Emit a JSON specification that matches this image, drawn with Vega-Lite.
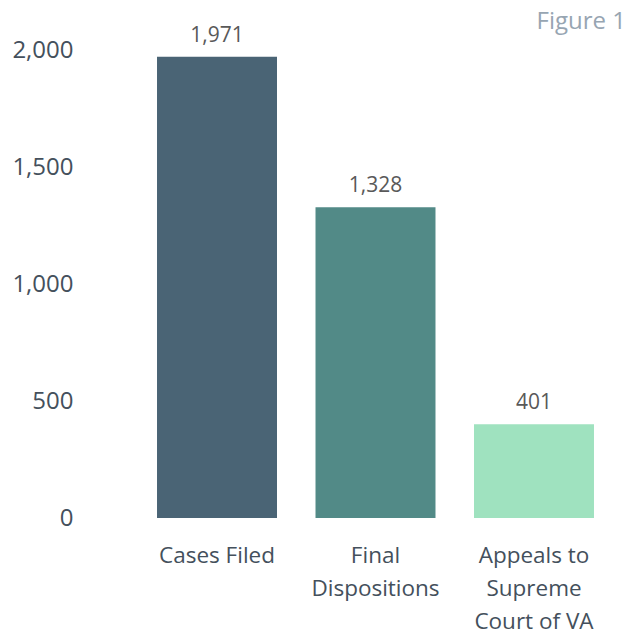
{
  "$schema": "https://vega.github.io/schema/vega-lite/v6.json",
  "width": 475,
  "height": 468,
  "autosize": {"type": "none"},
  "padding": {"left": 138, "top": 50, "right": 12, "bottom": 121},
  "background": "white",
  "config": {"view": {"stroke": null}, "font": "Open Sans"},
  "title": {
    "text": "Figure 1",
    "anchor": "end",
    "orient": "top",
    "offset": 0,
    "dx": 13,
    "dy": 9,
    "fontSize": 24,
    "fontWeight": "normal",
    "color": "#97a5b2",
    "font": "Open Sans"
  },
  "data": {
    "values": [
      {"category": "Cases Filed", "value": 1971, "color": "#4a6475"},
      {"category": "Final Dispositions", "value": 1328, "color": "#528a87"},
      {"category": "Appeals to Supreme Court of VA", "value": 401, "color": "#9fe2bf"}
    ]
  },
  "encoding": {
    "x": {
      "field": "category",
      "type": "nominal",
      "sort": null,
      "scale": {"paddingInner": 0.243, "paddingOuter": 0.12},
      "axis": {
        "title": null,
        "domain": false,
        "ticks": false,
        "labelAngle": 0,
        "labelFontSize": 22.5,
        "labelColor": "#44505c",
        "labelPadding": 26,
        "labelLineHeight": 33,
        "labelBaseline": "top",
        "labelExpr": "datum.value == 'Cases Filed' ? 'Cases Filed' : datum.value == 'Final Dispositions' ? ['Final', 'Dispositions'] : ['Appeals to', 'Supreme', 'Court of VA']"
      }
    },
    "y": {
      "field": "value",
      "type": "quantitative",
      "scale": {"domain": [0, 2000], "nice": false},
      "axis": {
        "title": null,
        "domain": false,
        "ticks": false,
        "grid": false,
        "values": [0, 500, 1000, 1500, 2000],
        "format": ",d",
        "labelFontSize": 24,
        "labelColor": "#44505c",
        "labelPadding": 65
      }
    }
  },
  "layer": [
    {
      "mark": {"type": "bar"},
      "encoding": {"color": {"field": "color", "type": "nominal", "scale": null}}
    },
    {
      "mark": {"type": "text", "baseline": "alphabetic", "dy": -15, "fontSize": 21, "color": "#595959"},
      "encoding": {"text": {"field": "value", "type": "quantitative", "format": ",d"}}
    }
  ]
}
